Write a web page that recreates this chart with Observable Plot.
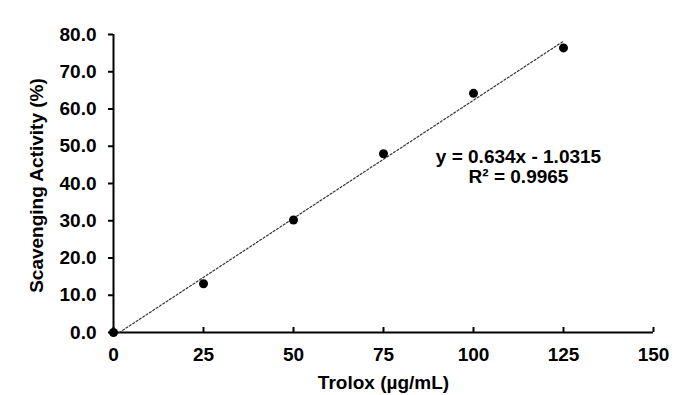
<!DOCTYPE html>
<html>
<head>
<meta charset="utf-8">
<script src="https://cdn.jsdelivr.net/npm/d3@7"></script>
<script src="https://cdn.jsdelivr.net/npm/@observablehq/plot@0.6"></script>
<style>
  html, body { margin: 0; padding: 0; background: #fff; }
  svg { font-family: "Liberation Sans", Arial, sans-serif; font-weight: bold; }
</style>
</head>
<body>
<div id="chart"></div>
<script>
// Data
const trolox = [0, 25, 50, 75, 100, 125];
const scavenging = [0, 13.1, 30.2, 48.0, 64.2, 76.4];
const trendX = [1.63, 125];
const trendY = [0, 78.2];
const xTicks = [0, 25, 50, 75, 100, 125, 150];
const yTicks = [0, 10, 20, 30, 40, 50, 60, 70, 80];
const equationLines = ["y = 0.634x - 1.0315", "R² = 0.9965"];
const xTitle = "Trolox (µg/mL)";
const yTitle = "Scavenging Activity (%)";

const points = trolox.map((x, i) => ({x, y: scavenging[i]}));
const trend = trendX.map((x, i) => ({x, y: trendY[i]}));

const chart = Plot.plot({
  width: 680,
  height: 395,
  marginLeft: 113,
  marginRight: 27,
  marginTop: 34,
  marginBottom: 63,
  style: {fontFamily: '"Liberation Sans", Arial, sans-serif', fontWeight: "bold", fontSize: "18px", color: "#000", background: "#fff"},
  x: {domain: [0, 150]},
  y: {domain: [0, 80]},
  marks: [
    Plot.axisY({ticks: yTicks, tickSize: 5, tickPadding: 12, tickFormat: d => d.toFixed(1), label: null, fontSize: 19, strokeWidth: 2}),
    Plot.axisX({ticks: xTicks, tickSize: 5, dy: -5, tickFormat: () => "", label: null, strokeWidth: 2}),
    Plot.axisX({ticks: xTicks, tickSize: 0, tickPadding: 15, label: null, fontSize: 19}),
    Plot.ruleX([0], {stroke: "#000", strokeWidth: 2}),
    Plot.ruleY([0], {stroke: "#000", strokeWidth: 2}),
    Plot.line(trend, {x: "x", y: "y", stroke: "#333", strokeWidth: 1.2, strokeDasharray: "2,2"}),
    Plot.dot(points, {x: "x", y: "y", r: 4.5, fill: "#000", stroke: "none"}),
    Plot.text(equationLines, {x: () => 112.5, y: (d, i) => 47.2 - i * 5.4, text: d => d, fontSize: 19, textAnchor: "middle", lineAnchor: "middle", fill: "#000"}),
    Plot.text([xTitle], {frameAnchor: "bottom", dy: 50, text: d => d, fontSize: 19, textAnchor: "middle", lineAnchor: "middle", fill: "#000"}),
    Plot.text([yTitle], {frameAnchor: "left", dx: -77, dy: 2, rotate: -90, text: d => d, fontSize: 19, textAnchor: "middle", lineAnchor: "middle", fill: "#000"})
  ]
});
document.getElementById("chart").appendChild(chart);
</script>
</body>
</html>
